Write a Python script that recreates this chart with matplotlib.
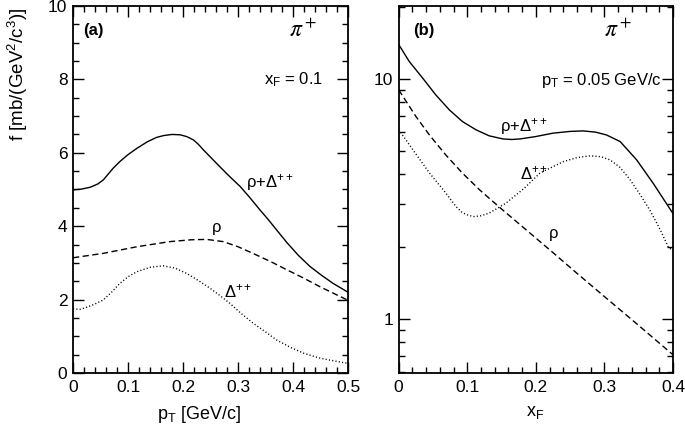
import matplotlib
matplotlib.use('Agg')
import matplotlib.pyplot as plt
from matplotlib.ticker import MultipleLocator, LogLocator, NullFormatter, FixedFormatter, FixedLocator

plt.rcParams['font.family'] = ['Liberation Sans', 'DejaVu Sans']
plt.rcParams['mathtext.fontset'] = 'custom'
plt.rcParams['mathtext.rm'] = 'Liberation Sans'
plt.rcParams['mathtext.it'] = 'Liberation Sans:italic'
plt.rcParams['mathtext.bf'] = 'Liberation Sans:bold'

# panel (a): f vs pT at xF = 0.1
pt_sum = [0.0, 0.015, 0.031, 0.045, 0.055, 0.064, 0.073, 0.085, 0.1, 0.116, 0.135, 0.152, 0.165,
          0.18, 0.195, 0.207, 0.219, 0.228, 0.237, 0.25, 0.267, 0.285, 0.304, 0.322, 0.34,
          0.355, 0.37, 0.389, 0.41, 0.431, 0.452, 0.473, 0.5]
f_sum = [4.99, 5.01, 5.06, 5.15, 5.26, 5.42, 5.58, 5.76, 5.95, 6.12, 6.30, 6.42, 6.47,
         6.50, 6.49, 6.44, 6.35, 6.23, 6.08, 5.88, 5.62, 5.35, 5.08, 4.77, 4.44,
         4.18, 3.90, 3.55, 3.20, 2.90, 2.66, 2.44, 2.20]

pt_rho = [0.0, 0.055, 0.116, 0.176, 0.215, 0.243, 0.273, 0.3, 0.327, 0.36, 0.389, 0.42, 0.449, 0.5]
f_rho = [3.14, 3.26, 3.44, 3.58, 3.63, 3.64, 3.58, 3.44, 3.26, 3.03, 2.81, 2.58, 2.35, 1.98]

pt_del = [0.0, 0.012, 0.025, 0.04, 0.055, 0.07, 0.085, 0.1, 0.116, 0.14, 0.164, 0.185, 0.207,
          0.228, 0.249, 0.268, 0.285, 0.305, 0.328, 0.35, 0.37, 0.395, 0.419, 0.445, 0.467, 0.5]
f_del = [1.75, 1.73, 1.79, 1.88, 1.99, 2.2, 2.44, 2.62, 2.76, 2.88, 2.92, 2.86, 2.71,
         2.52, 2.31, 2.1, 1.90, 1.63, 1.35, 1.12, 0.90, 0.70, 0.54, 0.42, 0.35, 0.26]

# panel (b): f vs xF at pT = 0.05 GeV/c
xf_sum = [0.0, 0.0155, 0.035, 0.054, 0.074, 0.093, 0.113, 0.132, 0.152, 0.165, 0.177, 0.2,
          0.225, 0.25, 0.269, 0.287, 0.303, 0.323, 0.347, 0.371, 0.4]
f2_sum = [13.9, 11.8, 10.07, 8.58, 7.42, 6.64, 6.13, 5.79, 5.62, 5.59, 5.62, 5.75,
          5.94, 6.04, 6.07, 6.0, 5.84, 5.48, 4.60, 3.68, 2.75]

xf_rho = [0.0, 0.025, 0.045, 0.069, 0.093, 0.118, 0.147, 0.186, 0.225, 0.26, 0.303, 0.35, 0.4]
f2_rho = [9.0, 6.98, 5.83, 4.81, 4.05, 3.45, 2.92, 2.35, 1.89, 1.55, 1.22, 0.94, 0.71]

xf_del = [0.0, 0.02, 0.045, 0.069, 0.0835, 0.093, 0.102, 0.11, 0.12, 0.132, 0.156, 0.183,
          0.206, 0.24, 0.26, 0.279, 0.295, 0.308, 0.322, 0.337, 0.352, 0.366, 0.38, 0.393, 0.4]
f2_del = [6.15, 5.1, 4.05, 3.34, 2.94, 2.77, 2.70, 2.67, 2.69, 2.76, 3.03, 3.5,
          4.05, 4.52, 4.70, 4.78, 4.74, 4.6, 4.3, 3.82, 3.3, 2.85, 2.4, 2.0, 1.92]

fig = plt.figure(figsize=(6.85, 4.32), dpi=100)
ax1 = fig.add_axes([0.1066, 0.1366, 0.4015, 0.8495])
ax2 = fig.add_axes([0.582, 0.1366, 0.4004, 0.8495])

dash = (0, (4.5, 2.5))
dot = (0, (0.8, 1.6))
lw = 1.0

ax1.plot(pt_sum, f_sum, color='black', lw=lw)
ax1.plot(pt_rho, f_rho, color='black', lw=lw, linestyle=dash)
ax1.plot(pt_del, f_del, color='black', lw=lw, linestyle=dot)

ax2.plot(xf_sum, f2_sum, color='black', lw=lw)
ax2.plot(xf_rho, f2_rho, color='black', lw=lw, linestyle=dash)
ax2.plot(xf_del, f2_del, color='black', lw=lw, linestyle=dot)

ax1.set_xlim(0, 0.5)
ax1.set_ylim(0, 10)
ax1.xaxis.set_minor_locator(MultipleLocator(0.02))
ax1.yaxis.set_major_locator(MultipleLocator(2))
ax1.yaxis.set_minor_locator(MultipleLocator(0.5))
ax1.set_xticks([0, 0.1, 0.2, 0.3, 0.4, 0.5])
ax1.set_xticklabels(['0', '0.1', '0.2', '0.3', '0.4', '0.5'])

ax2.set_xlim(0, 0.4)
ax2.set_yscale('log')
ax2.set_ylim(0.596, 20.1)
ax2.xaxis.set_minor_locator(MultipleLocator(0.02))
ax2.set_xticks([0, 0.1, 0.2, 0.3, 0.4])
ax2.set_xticklabels(['0', '0.1', '0.2', '0.3', '0.4'])
ax2.yaxis.set_major_locator(FixedLocator([1, 10]))
ax2.yaxis.set_major_formatter(FixedFormatter(['1', '10']))
ax2.yaxis.set_minor_locator(LogLocator(base=10, subs=[2, 3, 4, 5, 6, 7, 8, 9]))
ax2.yaxis.set_minor_formatter(NullFormatter())

for ax in (ax1, ax2):
    ax.tick_params(which='both', direction='in', top=True, right=True,
                   labelsize=12.5, width=1.0)
    ax.tick_params(which='major', length=8, pad=5)
    ax.tick_params(which='minor', length=4.5)
    ax.tick_params(axis='y', which='major', pad=4)
    for s in ax.spines.values():
        s.set_linewidth(1.3)

ax1.set_xlabel(r'$\mathrm{p_T}$ [GeV/c]', fontsize=13)
ax1.xaxis.set_label_coords(0.46, -0.085)
fig.text(18 / 685, 1 - 74 / 432, r'f [mb/(GeV$^2$/c$^3$)]', fontsize=13.5,
         rotation=90, ha='center', va='center')
ax2.set_xlabel(r'$\mathrm{x_F}$', fontsize=13)
ax2.xaxis.set_label_coords(0.497, -0.085)

# annotations panel (a)
ax1.text(0.036, 0.932, '(a)', transform=ax1.transAxes, fontsize=12, fontweight='bold',
         va='center', ha='left')
ax1.text(0.836, 0.932, r'$\pi^+$', transform=ax1.transAxes, fontsize=17, math_fontfamily='stix',
         va='center', ha='center')
ax1.text(0.91, 0.798, r'$\mathrm{x_F}$ = 0.1', transform=ax1.transAxes, fontsize=12,
         va='center', ha='right')
ax1.text(0.357, 4.9, r'$\mathrm{\rho}$+$\mathrm{\Delta^{++}}$', fontsize=12, va='bottom', ha='center')
ax1.text(0.26, 3.7, r'$\mathrm{\rho}$', fontsize=12, va='bottom', ha='center')
ax1.text(0.30, 1.98, r'$\mathrm{\Delta^{++}}$', fontsize=12, va='bottom', ha='center')

# annotations panel (b)
ax2.text(0.052, 0.932, '(b)', transform=ax2.transAxes, fontsize=12, fontweight='bold',
         va='center', ha='left')
ax2.text(0.80, 0.932, r'$\pi^+$', transform=ax2.transAxes, fontsize=17, math_fontfamily='stix',
         va='center', ha='center')
ax2.text(0.96, 0.798, r'$\mathrm{p_T}$ = 0.05 GeV/c', transform=ax2.transAxes, fontsize=12,
         va='center', ha='right')
ax2.text(0.182, 5.75, r'$\mathrm{\rho}$+$\mathrm{\Delta^{++}}$', fontsize=12, va='bottom', ha='center')
ax2.text(0.198, 3.72, r'$\mathrm{\Delta^{++}}$', fontsize=12, va='bottom', ha='center')
ax2.text(0.226, 2.08, r'$\mathrm{\rho}$', fontsize=12, va='bottom', ha='center')

fig.savefig('out.png', dpi=100)
